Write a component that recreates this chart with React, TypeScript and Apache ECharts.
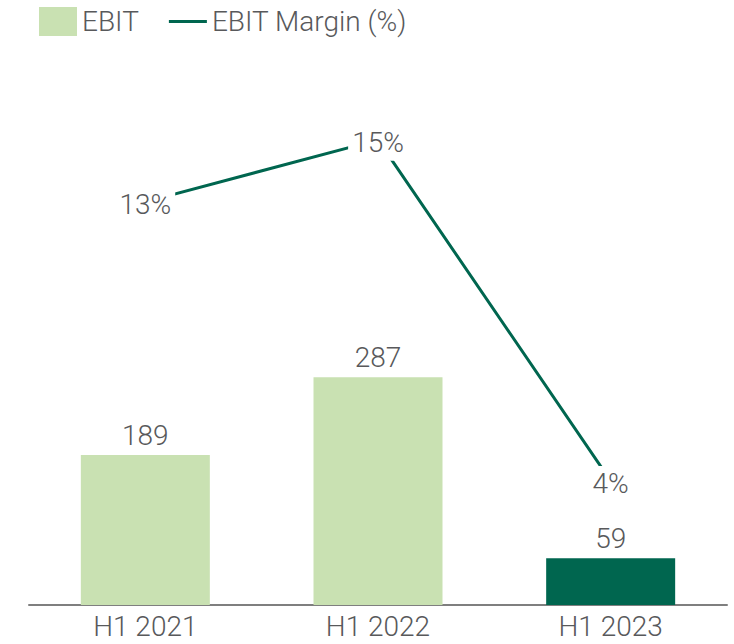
import React, { useEffect, useRef } from "react";
import * as echarts from "echarts";

const categories = ["H1 2021", "H1 2022", "H1 2023"];
const ebitValues = [189, 287, 59];
const marginValues = [13, 15, 4];
const marginLabels = ["13%", "15%", "4%"];

const LIGHT = "#c9e1b2";
const DARK = "#00664f";
const TEXT = "#58595b";
const FONT = "Roboto, sans-serif";
const FS = 28;
const FW = 300;

export default function App() {
  const ref = useRef<HTMLDivElement>(null);
  useEffect(() => {
    if (!ref.current) return;
    const chart = echarts.init(ref.current, undefined, { renderer: "svg" });
    chart.setOption({
      animation: false,
      textStyle: { fontFamily: FONT },
      legend: {
        left: 34,
        top: 2,
        itemWidth: 38,
        itemHeight: 29,
        itemGap: 30,
        itemTextGap: 12,
        textStyle: { fontSize: FS, fontWeight: FW, color: TEXT, fontFamily: FONT },
        data: [
          { name: "EBIT", icon: "rect", itemStyle: { color: LIGHT } },
          {
            name: "EBIT Margin (%)",
            icon: "path://M0,0L0,0M0,13H38V16H0ZM38,29L38,29",
            itemStyle: { color: DARK, opacity: 1 },
          },
        ],
      },
      grid: { left: 29, right: 7, top: 129, bottom: 39 },
      xAxis: {
        type: "category",
        data: categories,
        axisLine: { lineStyle: { color: "#7f7f7f", width: 2 } },
        axisTick: { show: false },
        axisLabel: {
          fontSize: FS,
          fontWeight: FW,
          color: TEXT,
          margin: 9,
          lineHeight: 24,
          fontFamily: FONT,
        },
      },
      yAxis: [
        { type: "value", min: 0, max: 600, show: false, splitLine: { show: false } },
        { type: "value", min: 0, max: 15.35, show: false, splitLine: { show: false } },
      ],
      series: [
        {
          name: "EBIT",
          type: "bar",
          barWidth: 129,
          data: ebitValues.map((v, i) => ({
            value: v,
            itemStyle: { color: i === 2 ? DARK : LIGHT },
          })),
          itemStyle: { color: LIGHT },
          label: {
            show: true,
            position: "top",
            distance: 6,
            fontSize: FS,
            fontWeight: FW,
            color: TEXT,
            fontFamily: FONT,
          },
        },
        {
          name: "EBIT Margin (%)",
          type: "line",
          yAxisIndex: 1,
          data: marginValues,
          symbol: "circle",
          symbolSize: 0.1,
          itemStyle: { color: DARK },
          lineStyle: { color: DARK, width: 3 },
          color: DARK,
          label: {
            show: true,
            position: "inside",
            offset: [0, 3],
            fontSize: FS,
            fontWeight: FW,
            color: TEXT,
            fontFamily: FONT,
            backgroundColor: "#ffffff",
            padding: [4, 4],
            formatter: (p: any) => marginLabels[p.dataIndex],
          },
        },
      ],
    });
    return () => chart.dispose();
  }, []);
  return <div ref={ref} style={{ width: 734, height: 644, position: "absolute", left: 0, top: 0 }} />;
}
